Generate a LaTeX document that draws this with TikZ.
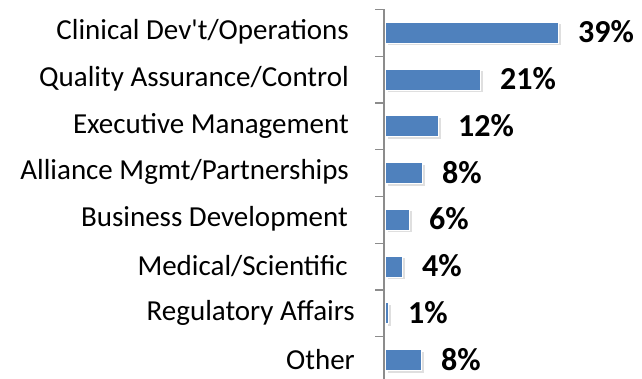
\documentclass[tikz,border=0pt]{standalone}
\usepackage{fontspec}
\setmainfont{Carlito}[Ligatures=TeXOff]
\usetikzlibrary{shadows}

\definecolor{barblue}{HTML}{4F81BD}
\definecolor{axisgray}{HTML}{8C8C8C}

\begin{document}
\begin{tikzpicture}[x=1pt, y=1pt,
  category/.style={anchor=east, inner sep=0pt, font=\fontsize{29}{32}\selectfont},
  bar/.style={anchor=west, draw=white, line width=1pt, fill=barblue, minimum height=21pt, inner sep=0pt,
    drop shadow={shadow xshift=2pt, shadow yshift=-2pt, opacity=0.25, fill=black!50}},
  percent/.style={anchor=west, inner sep=0pt, font=\fontsize{32}{35}\selectfont\bfseries},
  axis/.style={draw=axisgray, line width=1.3pt}]
\useasboundingbox (0,0) rectangle (642,379);

% axis and ticks
\coordinate (axis top) at (384,369.5);
\coordinate (axis bottom) at (384,0);
\draw[axis] (axis top) -- (axis bottom);
\foreach \t in {369.5, 322.75, 276, 229.25, 182.5, 135.75, 89, 42.25} {
  \draw[axis] (375,\t) -- (384,\t);
}

% categories
\node[category] (clinical label) at (349,347) {Clinical Dev't/Operations};
\node[category] (quality label) at (349,300.25) {Quality Assurance/Control};
\node[category] (executive label) at (349,253.5) {Executive Management};
\node[category] (alliance label) at (349,206.75) {Alliance Mgmt/Partnerships};
\node[category] (business label) at (348,160) {Business Development};
\node[category] (medical label) at (348,113.25) {Medical/Scientific};
\node[category] (regulatory label) at (355,66.5) {Regulatory Affairs};
\node[category] (other label) at (355,19.75) {Other};

% bars
\node[bar, minimum width=173pt] (clinical bar) at (385,346) {};
\node[bar, minimum width=95pt] (quality bar) at (385,299.25) {};
\node[bar, minimum width=53pt] (executive bar) at (385,252.5) {};
\node[bar, minimum width=37pt] (alliance bar) at (385,205.75) {};
\node[bar, minimum width=24pt] (business bar) at (385,159) {};
\node[bar, minimum width=17pt] (medical bar) at (385,112.25) {};
\node[bar, minimum width=3pt] (regulatory bar) at (385,65.5) {};
\node[bar, minimum width=36pt] (other bar) at (385,18.75) {};

% values
\node[percent] (clinical value) at ([xshift=19pt, yshift=1pt]clinical bar.east) {39\%};
\node[percent] (quality value) at ([xshift=19pt, yshift=1pt]quality bar.east) {21\%};
\node[percent] (executive value) at ([xshift=19pt, yshift=1pt]executive bar.east) {12\%};
\node[percent] (alliance value) at ([xshift=19pt, yshift=1pt]alliance bar.east) {8\%};
\node[percent] (business value) at ([xshift=19pt, yshift=1pt]business bar.east) {6\%};
\node[percent] (medical value) at ([xshift=19pt, yshift=1pt]medical bar.east) {4\%};
\node[percent] (regulatory value) at ([xshift=19pt, yshift=1pt]regulatory bar.east) {1\%};
\node[percent] (other value) at ([xshift=19pt, yshift=1pt]other bar.east) {8\%};
\end{tikzpicture}
\end{document}
